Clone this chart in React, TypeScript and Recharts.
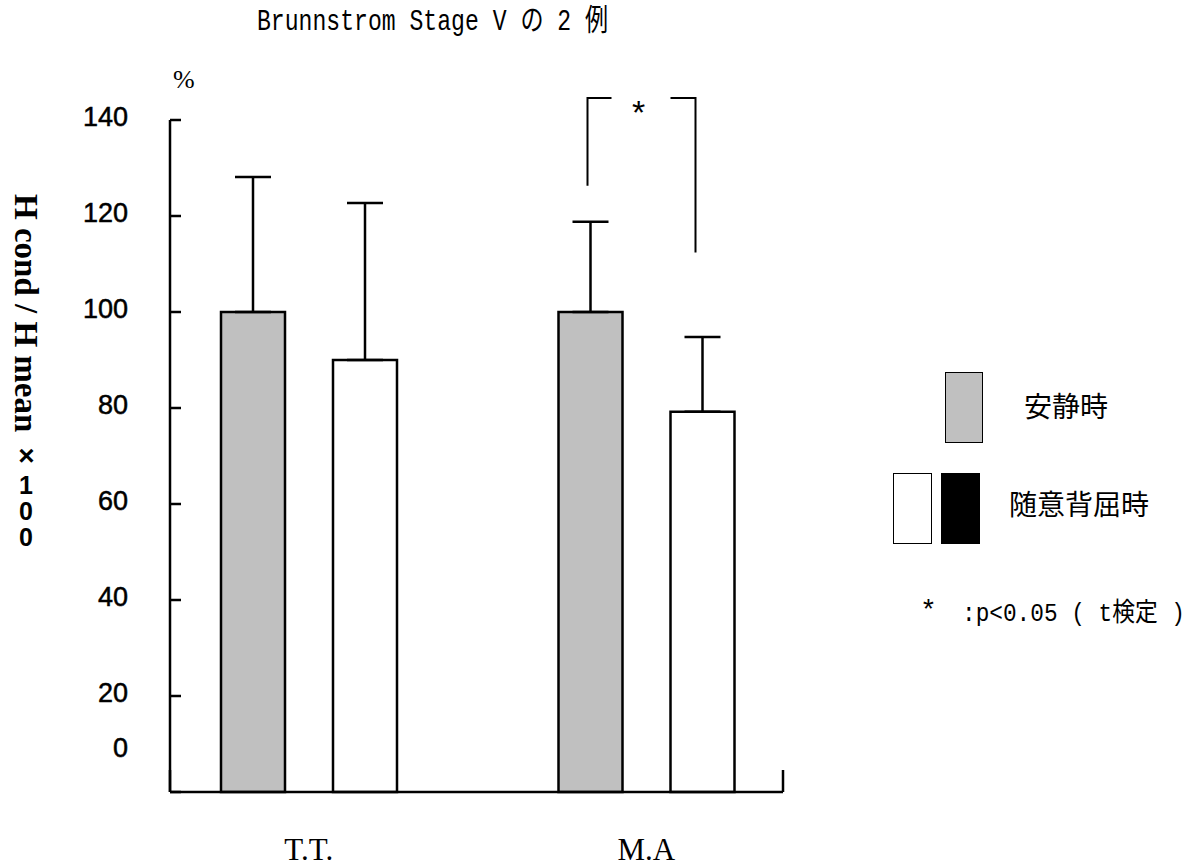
import React from 'react'
import { Bar, BarChart, ErrorBar, XAxis, YAxis } from 'recharts'

// values (%)
const subjects = ['T.T.', 'M.A']
const restMean = [100, 100]
const restSd = [28.1, 18.8]
const activeMean = [90, 79.2]
const activeSd = [32.7, 15.6]
const yTicks = [0, 20, 40, 60, 80, 100, 120, 140]

// significance bracket over M.A (y in %)
const sigIndex = 1
const bracketTop = 144.6
const bracketLeftFoot = 126.3
const bracketRightFoot = 112.4

const rows = subjects.map((name, i) => ({
  name,
  rest: restMean[i],
  restErr: [0, restSd[i]],
  active: activeMean[i],
  activeErr: [0, activeSd[i]],
}))

const sans = "'Liberation Sans', Arial, sans-serif"
const serif = "'Liberation Serif', 'Times New Roman', serif"
const gothic = "'Liberation Mono', 'Noto Sans CJK JP', monospace"
const cjk = "'Noto Sans CJK JP', sans-serif"

const TICK_GAP = 42
const PAD = { left: -30, right: -32 }
const BAR_SIZE = 64
const BAR_GAP = 48

function YTick(props: any) {
  const { x, y, payload } = props
  const v = payload.value
  const dy = v === 0 ? -44 : -3
  return (
    <g>
      <line x1={x + TICK_GAP} x2={x + TICK_GAP + 11} y1={y} y2={y} stroke="#000" strokeWidth={2.5} />
      <text
        x={x}
        y={y + dy}
        textAnchor="end"
        dominantBaseline="central"
        fontSize={27}
        fontFamily={sans}
        fill="#000"
        stroke="#000"
        strokeWidth={0.5}
      >
        {v}
      </text>
    </g>
  )
}

// small upward ticks at both ends of the category axis
function AxisEnds(props: any) {
  const vb = props.viewBox
  if (!vb) return null
  const { x, y, width } = vb
  return (
    <g stroke="#000" strokeWidth={2.5}>
      <line x1={x} x2={x} y1={y} y2={y - 22} />
      <line x1={x + width} x2={x + width} y1={y} y2={y - 22} />
    </g>
  )
}

// bracket drawn on the second bar of the significant pair, scaled from that bar
function SigBracket(props: any) {
  const vb = props.viewBox || props
  const index = props.index
  if (index !== sigIndex) return null
  const x = Number(vb.x)
  const y = Number(vb.y)
  const w = Number(vb.width)
  const h = Number(vb.height)
  const value = activeMean[sigIndex]
  const ppu = h / value
  const base = y + h
  const yOf = (v: number) => base - v * ppu
  const right = x + w / 2 - 7
  const left = right - (BAR_SIZE + BAR_GAP) + 4
  const top = yOf(bracketTop)
  return (
    <g>
      <g stroke="#000" strokeWidth={2} fill="none">
        <polyline points={`${left},${yOf(bracketLeftFoot)} ${left},${top} ${left + 24},${top}`} />
        <polyline points={`${right - 25},${top} ${right},${top} ${right},${yOf(bracketRightFoot)}`} />
      </g>
      <text
        x={(left + right) / 2 - 3}
        y={top + 14}
        textAnchor="middle"
        dominantBaseline="central"
        fontSize={34}
        fontFamily={sans}
        fill="#000"
      >
        *
      </text>
    </g>
  )
}

const abs = (s: React.CSSProperties): React.CSSProperties => ({ position: 'absolute', margin: 0, ...s })

export default function App() {
  return (
    <div style={{ position: 'fixed', left: 0, top: 0, width: 1204, height: 868, background: '#fff' }}>
      <BarChart
        width={1204}
        height={868}
        data={rows}
        margin={{ top: 120, right: 421, bottom: 0, left: 110 }}
        barGap={BAR_GAP}
      >
        <XAxis
          dataKey="name"
          height={76}
          padding={PAD}
          tickLine={false}
          tickSize={0}
          tickMargin={46}
          axisLine={{ stroke: '#000', strokeWidth: 2.5 }}
          tick={{ fill: '#000', fontSize: 31, fontFamily: serif }}
          label={<AxisEnds />}
        />
        <YAxis
          width={60}
          domain={[0, 140]}
          ticks={yTicks}
          interval={0}
          tickLine={false}
          tickSize={0}
          tickMargin={TICK_GAP}
          axisLine={{ stroke: '#000', strokeWidth: 2.5 }}
          tick={<YTick />}
        />
        <Bar dataKey="rest" fill="#c0c0c0" stroke="#000" strokeWidth={2.5} barSize={BAR_SIZE} isAnimationActive={false}>
          <ErrorBar dataKey="restErr" direction="y" width={18} stroke="#000" strokeWidth={2.5} />
        </Bar>
        <Bar
          dataKey="active"
          fill="#fff"
          stroke="#000"
          strokeWidth={2.5}
          barSize={BAR_SIZE}
          isAnimationActive={false}
          label={<SigBracket />}
        >
          <ErrorBar dataKey="activeErr" direction="y" width={18} stroke="#000" strokeWidth={2.5} />
        </Bar>
      </BarChart>

      {/* title */}
      <div
        style={abs({
          left: 257,
          top: 4,
          fontSize: 30,
          lineHeight: '36px',
          fontFamily: gothic,
          whiteSpace: 'pre',
          transform: 'scaleX(0.77)',
          transformOrigin: 'left center',
        })}
      >
        Brunnstrom Stage V の 2 例
      </div>

      {/* unit */}
      <div style={abs({ left: 173, top: 64, fontSize: 26, lineHeight: '32px', fontFamily: serif })}>%</div>

      {/* y axis title, vertical */}
      <div
        style={abs({
          left: 4,
          top: 194,
          height: 420,
          width: 44,
          writingMode: 'vertical-rl',
          lineHeight: '44px',
          whiteSpace: 'nowrap',
        })}
      >
        <span style={{ fontFamily: serif, fontWeight: 'bold', fontSize: 33 }}>H cond / H mean</span>
        <span style={{ fontFamily: sans, fontWeight: 'bold', fontSize: 28 }}> ×</span>
        <span style={{ fontFamily: sans, fontWeight: 'bold', fontSize: 25, textOrientation: 'upright', letterSpacing: -2 }}>
          100
        </span>
      </div>

      {/* legend */}
      <div style={abs({ left: 945, top: 372, width: 36, height: 69, background: '#c0c0c0', border: '1.5px solid #000' })} />
      <div style={abs({ left: 1024, top: 388, fontSize: 28, lineHeight: '34px', fontFamily: cjk })}>安静時</div>
      <div style={abs({ left: 893, top: 473, width: 37, height: 69, background: '#fff', border: '1.5px solid #000' })} />
      <div style={abs({ left: 941, top: 473, width: 37, height: 69, background: '#000', border: '1.5px solid #000' })} />
      <div style={abs({ left: 1009, top: 486, fontSize: 28, lineHeight: '34px', fontFamily: cjk })}>随意背屈時</div>
      <div style={abs({ left: 920, top: 596, fontSize: 28, lineHeight: '32px', fontFamily: gothic })}>*</div>
      <div
        style={abs({
          left: 962,
          top: 598,
          fontSize: 26,
          lineHeight: '32px',
          fontFamily: gothic,
          whiteSpace: 'pre',
          transform: 'scaleX(0.875)',
          transformOrigin: 'left center',
        })}
      >
        :p&lt;0.05 ( t検定 )
      </div>
    </div>
  )
}
